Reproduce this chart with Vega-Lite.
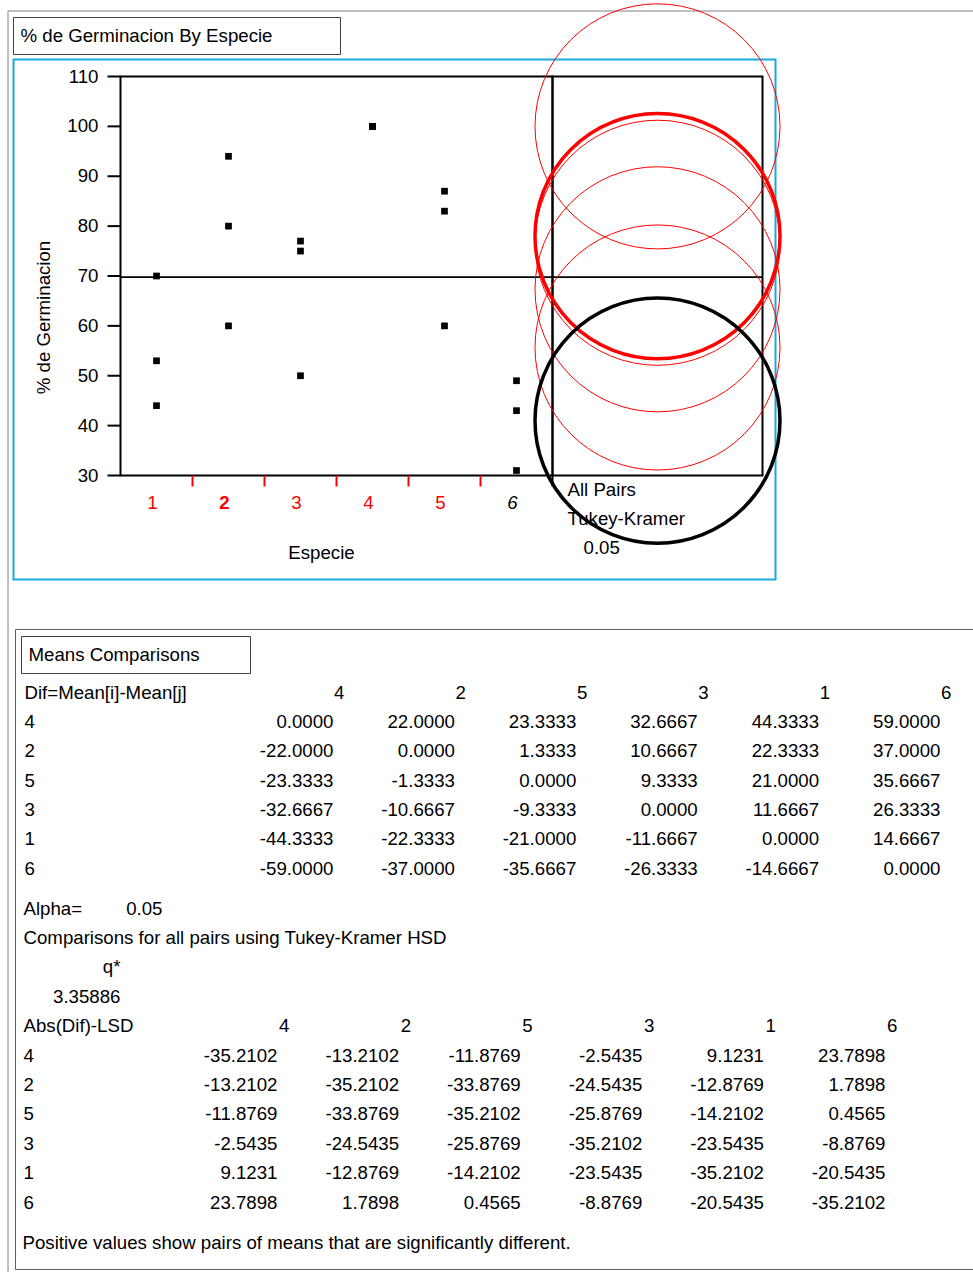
{
  "$schema": "https://vega.github.io/schema/vega-lite/v6.json",
  "width": 976,
  "height": 1271,
  "padding": {"left": 7.5, "top": 10.5, "right": -10.5, "bottom": -9.5},
  "autosize": {"type": "none"},
  "background": "white",
  "datasets": {
    "germ": [
      {"especie": 1, "pct": 70}, {"especie": 1, "pct": 53}, {"especie": 1, "pct": 44},
      {"especie": 2, "pct": 94}, {"especie": 2, "pct": 80}, {"especie": 2, "pct": 60},
      {"especie": 3, "pct": 77}, {"especie": 3, "pct": 75}, {"especie": 3, "pct": 50},
      {"especie": 4, "pct": 100}, {"especie": 4, "pct": 100}, {"especie": 4, "pct": 100},
      {"especie": 5, "pct": 87}, {"especie": 5, "pct": 83}, {"especie": 5, "pct": 60},
      {"especie": 6, "pct": 49}, {"especie": 6, "pct": 43}, {"especie": 6, "pct": 31}
    ],
    "groups": [{"especie": 1}, {"especie": 2}, {"especie": 3}, {"especie": 4}, {"especie": 5}, {"especie": 6}],
    "yticks": [{"v": 30}, {"v": 40}, {"v": 50}, {"v": 60}, {"v": 70}, {"v": 80}, {"v": 90}, {"v": 100}, {"v": 110}],
    "dif": [
      {"i": "4", "j": "4", "dif": 0}, {"i": "4", "j": "2", "dif": 22}, {"i": "4", "j": "5", "dif": 23.3333}, {"i": "4", "j": "3", "dif": 32.6667}, {"i": "4", "j": "1", "dif": 44.3333}, {"i": "4", "j": "6", "dif": 59},
      {"i": "2", "j": "4", "dif": -22}, {"i": "2", "j": "2", "dif": 0}, {"i": "2", "j": "5", "dif": 1.3333}, {"i": "2", "j": "3", "dif": 10.6667}, {"i": "2", "j": "1", "dif": 22.3333}, {"i": "2", "j": "6", "dif": 37},
      {"i": "5", "j": "4", "dif": -23.3333}, {"i": "5", "j": "2", "dif": -1.3333}, {"i": "5", "j": "5", "dif": 0}, {"i": "5", "j": "3", "dif": 9.3333}, {"i": "5", "j": "1", "dif": 21}, {"i": "5", "j": "6", "dif": 35.6667},
      {"i": "3", "j": "4", "dif": -32.6667}, {"i": "3", "j": "2", "dif": -10.6667}, {"i": "3", "j": "5", "dif": -9.3333}, {"i": "3", "j": "3", "dif": 0}, {"i": "3", "j": "1", "dif": 11.6667}, {"i": "3", "j": "6", "dif": 26.3333},
      {"i": "1", "j": "4", "dif": -44.3333}, {"i": "1", "j": "2", "dif": -22.3333}, {"i": "1", "j": "5", "dif": -21}, {"i": "1", "j": "3", "dif": -11.6667}, {"i": "1", "j": "1", "dif": 0}, {"i": "1", "j": "6", "dif": 14.6667},
      {"i": "6", "j": "4", "dif": -59}, {"i": "6", "j": "2", "dif": -37}, {"i": "6", "j": "5", "dif": -35.6667}, {"i": "6", "j": "3", "dif": -26.3333}, {"i": "6", "j": "1", "dif": -14.6667}, {"i": "6", "j": "6", "dif": 0}
    ],
    "lsd": [
      {"i": "4", "j": "4", "v": -35.2102}, {"i": "4", "j": "2", "v": -13.2102}, {"i": "4", "j": "5", "v": -11.8769}, {"i": "4", "j": "3", "v": -2.5435}, {"i": "4", "j": "1", "v": 9.1231}, {"i": "4", "j": "6", "v": 23.7898},
      {"i": "2", "j": "4", "v": -13.2102}, {"i": "2", "j": "2", "v": -35.2102}, {"i": "2", "j": "5", "v": -33.8769}, {"i": "2", "j": "3", "v": -24.5435}, {"i": "2", "j": "1", "v": -12.8769}, {"i": "2", "j": "6", "v": 1.7898},
      {"i": "5", "j": "4", "v": -11.8769}, {"i": "5", "j": "2", "v": -33.8769}, {"i": "5", "j": "5", "v": -35.2102}, {"i": "5", "j": "3", "v": -25.8769}, {"i": "5", "j": "1", "v": -14.2102}, {"i": "5", "j": "6", "v": 0.4565},
      {"i": "3", "j": "4", "v": -2.5435}, {"i": "3", "j": "2", "v": -24.5435}, {"i": "3", "j": "5", "v": -25.8769}, {"i": "3", "j": "3", "v": -35.2102}, {"i": "3", "j": "1", "v": -23.5435}, {"i": "3", "j": "6", "v": -8.8769},
      {"i": "1", "j": "4", "v": 9.1231}, {"i": "1", "j": "2", "v": -12.8769}, {"i": "1", "j": "5", "v": -14.2102}, {"i": "1", "j": "3", "v": -23.5435}, {"i": "1", "j": "1", "v": -35.2102}, {"i": "1", "j": "6", "v": -20.5435},
      {"i": "6", "j": "4", "v": 23.7898}, {"i": "6", "j": "2", "v": 1.7898}, {"i": "6", "j": "5", "v": 0.4565}, {"i": "6", "j": "3", "v": -8.8769}, {"i": "6", "j": "1", "v": -20.5435}, {"i": "6", "j": "6", "v": -35.2102}
    ],
    "cols": [{"j": "4"}, {"j": "2"}, {"j": "5"}, {"j": "3"}, {"j": "1"}, {"j": "6"}],
    "rows1": [{"r": "Dif=Mean[i]-Mean[j]"}, {"r": "4"}, {"r": "2"}, {"r": "5"}, {"r": "3"}, {"r": "1"}, {"r": "6"}],
    "rows2": [{"r": "Alpha="}, {"r": "Comparisons for all pairs using Tukey-Kramer HSD"}, {"r": "Abs(Dif)-LSD"}, {"r": "4"}, {"r": "2"}, {"r": "5"}, {"r": "3"}, {"r": "1"}, {"r": "6"}],
    "misc": [
      {"line": "Alpha=", "col": "alpha", "label": "0.05"},
      {"line": "qh", "col": "q", "label": "q*"},
      {"line": "qv", "col": "q", "label": "3.35886"}
    ]
  },
  "resolve": {
    "scale": {"x": "independent", "y": "independent"},
    "axis": {"x": "independent", "y": "independent"}
  },
  "layer": [
    {
      "data": {"values": [{"report": "% de Germinacion By Especie"}]},
      "layer": [
        {
          "mark": {"type": "rect", "filled": false, "color": "#404040", "strokeWidth": 1},
          "encoding": {
            "x": {"field": "report", "type": "nominal", "scale": {"type": "band", "range": [6, 333], "paddingInner": 0, "paddingOuter": 0}, "axis": null},
            "y": {"field": "report", "type": "nominal", "scale": {"type": "band", "range": [7, 44], "paddingInner": 0, "paddingOuter": 0}, "axis": null}
          }
        },
        {
          "mark": {"type": "text", "align": "left", "baseline": "middle", "dx": 7},
          "encoding": {
            "x": {"field": "report", "type": "nominal", "bandPosition": 0, "axis": null},
            "y": {"field": "report", "type": "nominal", "axis": null},
            "text": {"field": "report"}
          }
        }
      ]
    },
    {
      "data": {"values": [{"panel": "Oneway Analysis"}]},
      "mark": {"type": "rect", "filled": false, "color": "#1aa8e2", "strokeWidth": 2},
      "encoding": {
        "x": {"field": "panel", "type": "nominal", "scale": {"type": "band", "range": [6, 768], "paddingInner": 0, "paddingOuter": 0}, "axis": null},
        "y": {"field": "panel", "type": "nominal", "scale": {"type": "band", "range": [49, 569], "paddingInner": 0, "paddingOuter": 0}, "axis": null}
      }
    },
    {
      "data": {"name": "germ"},
      "layer": [
        {
          "data": {"values": [{}]},
          "mark": {"type": "rect", "filled": false, "color": "black", "strokeWidth": 2},
          "encoding": {
            "x": {"datum": 0.5, "type": "quantitative", "axis": null},
            "x2": {"datum": 6.5},
            "y": {"datum": 30, "type": "quantitative", "axis": null},
            "y2": {"datum": 110}
          }
        },
        {
          "mark": {"type": "rule", "color": "black", "strokeWidth": 1.8},
          "encoding": {
            "y": {"aggregate": "mean", "field": "pct", "type": "quantitative", "axis": null},
            "x": {"datum": 0.5, "type": "quantitative", "axis": null},
            "x2": {"datum": 6.5}
          }
        },
        {
          "mark": {"type": "square", "size": 45, "color": "black", "filled": true, "opacity": 1},
          "encoding": {
            "x": {"field": "especie", "type": "quantitative", "scale": {"domain": [0.5, 6.5], "range": [113, 545], "nice": false, "zero": false}, "axis": null},
            "y": {"field": "pct", "type": "quantitative", "scale": {"domain": [30, 110], "range": [465, 66], "nice": false, "zero": false}, "axis": null}
          }
        },
        {
          "data": {"name": "yticks"},
          "mark": {"type": "text", "align": "right", "baseline": "middle", "dx": -22},
          "encoding": {
            "x": {"datum": 0.5, "type": "quantitative", "axis": null},
            "y": {"field": "v", "type": "quantitative", "axis": null},
            "text": {"field": "v", "type": "quantitative", "format": "d"}
          }
        },
        {
          "data": {"name": "yticks"},
          "mark": {"type": "tick", "orient": "horizontal", "size": 13, "thickness": 2, "xOffset": -6.5, "color": "black", "opacity": 1},
          "encoding": {
            "x": {"datum": 0.5, "type": "quantitative", "axis": null},
            "y": {"field": "v", "type": "quantitative", "axis": null}
          }
        },
        {
          "data": {"name": "groups"},
          "transform": [{"filter": "datum.especie != 2 && datum.especie != 6"}],
          "mark": {"type": "text", "align": "center", "baseline": "middle", "dx": -4, "dy": 27, "color": "red"},
          "encoding": {
            "x": {"field": "especie", "type": "quantitative", "axis": null},
            "y": {"datum": 30, "type": "quantitative", "axis": null},
            "text": {"field": "especie", "type": "quantitative", "format": "d"}
          }
        },
        {
          "data": {"name": "groups"},
          "transform": [{"filter": "datum.especie == 2"}],
          "mark": {"type": "text", "align": "center", "baseline": "middle", "dx": -4, "dy": 27, "color": "red", "fontWeight": "bold"},
          "encoding": {
            "x": {"field": "especie", "type": "quantitative", "axis": null},
            "y": {"datum": 30, "type": "quantitative", "axis": null},
            "text": {"field": "especie", "type": "quantitative", "format": "d"}
          }
        },
        {
          "data": {"name": "groups"},
          "transform": [{"filter": "datum.especie == 6"}],
          "mark": {"type": "text", "align": "center", "baseline": "middle", "dx": -4, "dy": 27, "color": "black", "fontStyle": "italic"},
          "encoding": {
            "x": {"field": "especie", "type": "quantitative", "axis": null},
            "y": {"datum": 30, "type": "quantitative", "axis": null},
            "text": {"field": "especie", "type": "quantitative", "format": "d"}
          }
        },
        {
          "data": {"name": "groups"},
          "mark": {"type": "tick", "orient": "vertical", "size": 11, "thickness": 2, "xOffset": 36, "yOffset": 5.5, "opacity": 1},
          "encoding": {
            "x": {"field": "especie", "type": "quantitative", "axis": null},
            "y": {"datum": 30, "type": "quantitative", "axis": null},
            "color": {"condition": {"test": "datum.especie == 6", "value": "black"}, "value": "red"}
          }
        },
        {
          "data": {"values": [{"xtitle": "Especie", "ytitle": "% de Germinacion"}]},
          "layer": [
            {
              "mark": {"type": "text", "align": "center", "baseline": "middle", "dx": -15, "dy": 77},
              "encoding": {
                "x": {"datum": 3.5, "type": "quantitative", "axis": null},
                "y": {"datum": 30, "type": "quantitative", "axis": null},
                "text": {"field": "xtitle"}
              }
            },
            {
              "mark": {"type": "text", "align": "center", "baseline": "middle", "angle": 270, "dx": -41.5, "dy": -77},
              "encoding": {
                "x": {"datum": 0.5, "type": "quantitative", "axis": null},
                "y": {"datum": 70, "type": "quantitative", "axis": null},
                "text": {"field": "ytitle"}
              }
            }
          ]
        }
      ]
    },
    {
      "data": {"name": "germ"},
      "layer": [
        {
          "data": {"values": [{}]},
          "mark": {"type": "rect", "filled": false, "color": "black", "strokeWidth": 2},
          "encoding": {
            "x": {"datum": 0, "type": "quantitative", "scale": {"domain": [0, 1], "range": [545, 755], "nice": false, "zero": false}, "axis": null},
            "x2": {"datum": 1},
            "y": {"datum": 30, "type": "quantitative", "scale": {"domain": [30, 110], "range": [465, 66], "nice": false, "zero": false}, "axis": null},
            "y2": {"datum": 110}
          }
        },
        {
          "mark": {"type": "rule", "color": "black", "strokeWidth": 1.8},
          "encoding": {
            "y": {"aggregate": "mean", "field": "pct", "type": "quantitative", "axis": null},
            "x": {"datum": 0, "type": "quantitative", "axis": null},
            "x2": {"datum": 1}
          }
        },
        {
          "mark": {"type": "point", "shape": "circle", "filled": false, "size": 60025, "opacity": 1},
          "encoding": {
            "x": {"datum": 0.5, "type": "quantitative", "axis": null},
            "y": {"aggregate": "mean", "field": "pct", "type": "quantitative", "axis": null},
            "detail": {"field": "especie", "type": "nominal"},
            "color": {"condition": {"test": "datum.especie == 6", "value": "black"}, "value": "red"},
            "strokeWidth": {"condition": {"test": "datum.especie == 2 || datum.especie == 6", "value": 3.5}, "value": 1}
          }
        },
        {
          "data": {"values": [{"pairs": "All Pairs", "method": "Tukey-Kramer", "alpha": "0.05"}]},
          "layer": [
            {
              "mark": {"type": "text", "align": "left", "baseline": "middle", "dx": 15, "dy": 14},
              "encoding": {
                "x": {"datum": 0, "type": "quantitative", "axis": null},
                "y": {"datum": 30, "type": "quantitative", "axis": null},
                "text": {"field": "pairs"}
              }
            },
            {
              "mark": {"type": "text", "align": "left", "baseline": "middle", "dx": 15, "dy": 43},
              "encoding": {
                "x": {"datum": 0, "type": "quantitative", "axis": null},
                "y": {"datum": 30, "type": "quantitative", "axis": null},
                "text": {"field": "method"}
              }
            },
            {
              "mark": {"type": "text", "align": "left", "baseline": "middle", "dx": 31, "dy": 72},
              "encoding": {
                "x": {"datum": 0, "type": "quantitative", "axis": null},
                "y": {"datum": 30, "type": "quantitative", "axis": null},
                "text": {"field": "alpha"}
              }
            }
          ]
        }
      ]
    },
    {
      "data": {"values": [{"section": "Means Comparisons"}]},
      "mark": {"type": "rect", "filled": false, "color": "#606060", "strokeWidth": 1},
      "encoding": {
        "x": {"field": "section", "type": "nominal", "scale": {"type": "band", "range": [8, 990], "paddingInner": 0, "paddingOuter": 0}, "axis": null},
        "y": {"field": "section", "type": "nominal", "scale": {"type": "band", "range": [619, 1259], "paddingInner": 0, "paddingOuter": 0}, "axis": null}
      }
    },
    {
      "data": {"values": [{"section": "Means Comparisons"}]},
      "layer": [
        {
          "mark": {"type": "rect", "filled": false, "color": "#404040", "strokeWidth": 1},
          "encoding": {
            "x": {"field": "section", "type": "nominal", "scale": {"type": "band", "range": [14, 243], "paddingInner": 0, "paddingOuter": 0}, "axis": null},
            "y": {"field": "section", "type": "nominal", "scale": {"type": "band", "range": [626, 663], "paddingInner": 0, "paddingOuter": 0}, "axis": null}
          }
        },
        {
          "mark": {"type": "text", "align": "left", "baseline": "middle", "dx": 7},
          "encoding": {
            "x": {"field": "section", "type": "nominal", "bandPosition": 0, "axis": null},
            "y": {"field": "section", "type": "nominal", "axis": null},
            "text": {"field": "section"}
          }
        }
      ]
    },
    {
      "layer": [
        {
          "layer": [
            {
              "data": {"name": "dif"},
              "mark": {"type": "text", "align": "right", "baseline": "middle"},
              "encoding": {
                "x": {"field": "j", "type": "nominal", "scale": {"type": "point", "domain": ["4", "2", "5", "3", "1", "6"], "range": [326, 933], "padding": 0}, "axis": null},
                "y": {"field": "i", "type": "nominal", "scale": {"type": "point", "domain": ["Dif=Mean[i]-Mean[j]", "4", "2", "5", "3", "1", "6"], "range": [682, 858], "padding": 0}, "axis": null},
                "text": {"field": "dif", "type": "quantitative", "format": ".4f"}
              }
            },
            {
              "data": {"name": "cols"},
              "mark": {"type": "text", "align": "right", "baseline": "middle", "dx": 11},
              "encoding": {
                "x": {"field": "j", "type": "nominal", "axis": null},
                "y": {"datum": "Dif=Mean[i]-Mean[j]", "type": "nominal", "axis": null},
                "text": {"field": "j"}
              }
            }
          ]
        },
        {
          "data": {"name": "rows1"},
          "mark": {"type": "text", "align": "left", "baseline": "middle"},
          "encoding": {
            "x": {"field": "r", "type": "nominal", "scale": {"type": "point", "range": [17, 17], "padding": 0}, "axis": null},
            "y": {"field": "r", "type": "nominal", "axis": null},
            "text": {"field": "r"}
          }
        }
      ],
      "resolve": {"scale": {"x": "independent"}, "axis": {"x": "independent"}}
    },
    {
      "layer": [
        {
          "layer": [
            {
              "data": {"name": "lsd"},
              "mark": {"type": "text", "align": "right", "baseline": "middle"},
              "encoding": {
                "x": {"field": "j", "type": "nominal", "scale": {"type": "point", "domain": ["4", "2", "5", "3", "1", "6"], "range": [270, 878], "padding": 0}, "axis": null},
                "y": {"field": "i", "type": "nominal", "scale": {"type": "point", "domain": ["Alpha=", "Comparisons for all pairs using Tukey-Kramer HSD", "qh", "qv", "Abs(Dif)-LSD", "4", "2", "5", "3", "1", "6"], "range": [898, 1192], "padding": 0}, "axis": null},
                "text": {"field": "v", "type": "quantitative", "format": ".4f"}
              }
            },
            {
              "data": {"name": "cols"},
              "mark": {"type": "text", "align": "right", "baseline": "middle", "dx": 12},
              "encoding": {
                "x": {"field": "j", "type": "nominal", "axis": null},
                "y": {"datum": "Abs(Dif)-LSD", "type": "nominal", "axis": null},
                "text": {"field": "j"}
              }
            }
          ]
        },
        {
          "data": {"name": "misc"},
          "mark": {"type": "text", "align": "right", "baseline": "middle"},
          "encoding": {
            "x": {"field": "col", "type": "nominal", "scale": {"type": "point", "domain": ["q", "alpha"], "range": [113, 155], "padding": 0}, "axis": null},
            "y": {"field": "line", "type": "nominal", "axis": null},
            "text": {"field": "label"}
          }
        },
        {
          "data": {"name": "rows2"},
          "mark": {"type": "text", "align": "left", "baseline": "middle"},
          "encoding": {
            "x": {"field": "r", "type": "nominal", "scale": {"type": "point", "range": [16, 16], "padding": 0}, "axis": null},
            "y": {"field": "r", "type": "nominal", "axis": null},
            "text": {"field": "r"}
          }
        }
      ],
      "resolve": {"scale": {"x": "independent"}, "axis": {"x": "independent"}}
    },
    {
      "data": {"values": [{"note": "Positive values show pairs of means that are significantly different."}]},
      "mark": {"type": "text", "align": "left", "baseline": "middle"},
      "encoding": {
        "x": {"field": "note", "type": "nominal", "scale": {"type": "point", "range": [15, 15], "padding": 0}, "axis": null},
        "y": {"field": "note", "type": "nominal", "scale": {"type": "point", "range": [1232, 1232], "padding": 0}, "axis": null},
        "text": {"field": "note"}
      }
    }
  ],
  "config": {
    "font": "Liberation Sans",
    "view": {"stroke": "#808080", "strokeWidth": 1},
    "text": {"font": "Liberation Sans", "fontSize": 18.67, "color": "black"},
    "axis": {
      "labelFont": "Liberation Sans", "labelFontSize": 18.67, "labelColor": "black",
      "titleFont": "Liberation Sans", "titleFontSize": 18.67, "titleFontWeight": "normal", "titleColor": "black"
    },
    "locale": {
      "number": {"decimal": ".", "thousands": ",", "grouping": [3], "currency": ["$", ""], "minus": "-"}
    }
  }
}
